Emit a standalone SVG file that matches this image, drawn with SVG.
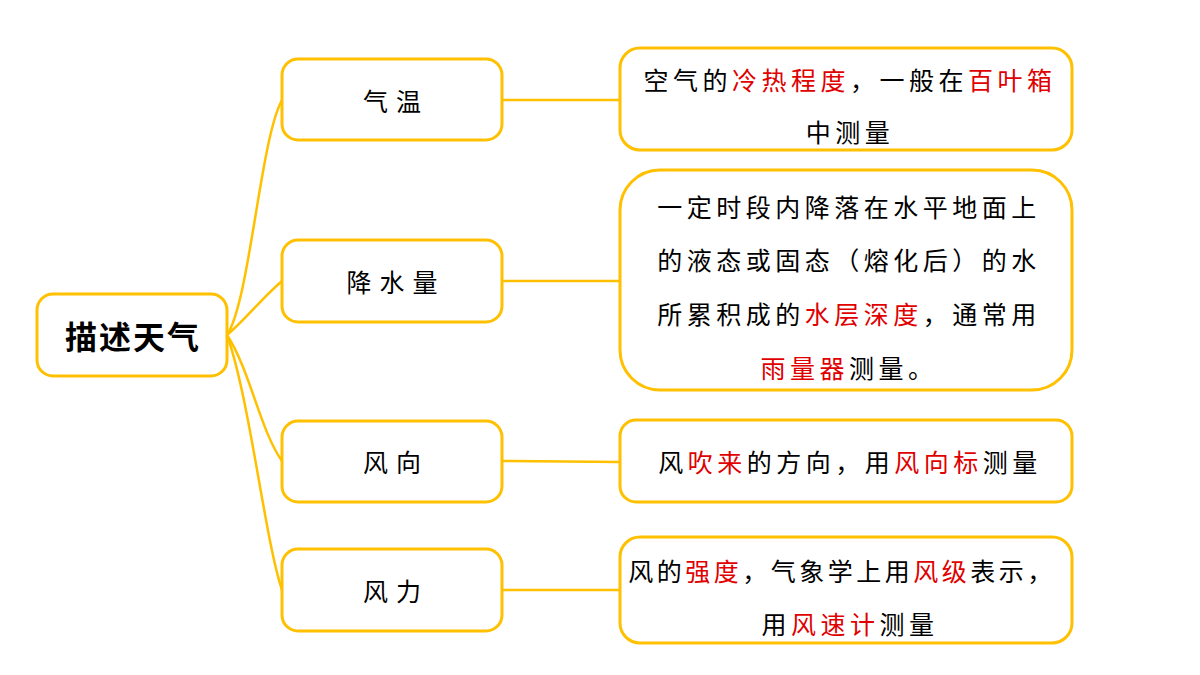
<svg xmlns="http://www.w3.org/2000/svg" width="1200" height="675" viewBox="0 0 1200 675">
<style>
.b{fill:#fff;stroke:#FFC000;stroke-width:3}
.c{fill:none;stroke:#FFC000;stroke-width:2.5}
text{font-family:"Noto Sans CJK SC","Noto Sans",sans-serif;font-size:25px;fill:#000;text-anchor:middle;dominant-baseline:central}
.d{letter-spacing:4.5px}
.m{letter-spacing:8px}
.r{fill:#E00000}
</style>
<rect width="1200" height="675" fill="#fff"/>
<g id="connectors">
<path class="c" d="M227,335 C250,300 260,140 282,100"/>
<path class="c" d="M227,335 C245,320 260,300 282,281"/>
<path class="c" d="M227,335 C250,370 260,430 282,461"/>
<path class="c" d="M227,335 C250,400 265,540 282,590"/>
<path class="c" d="M502,100 L620,100"/>
<path class="c" d="M502,281 L620,281"/>
<path class="c" d="M502,461 L620,462"/>
<path class="c" d="M502,590 L620,590"/>
</g>
<g id="root"><rect class="b" x="37" y="294" width="190" height="82" rx="16"/><text x="133" y="335" style="font-size:32px;font-weight:bold;letter-spacing:2px">描述天气</text></g>
<g id="n1"><rect class="b" x="282" y="59" width="220" height="81" rx="16"/><text class="m" x="396" y="100">气温</text></g>
<g id="n2"><rect class="b" x="282" y="240" width="220" height="82" rx="16"/><text class="m" x="396" y="281">降水量</text></g>
<g id="n3"><rect class="b" x="282" y="421" width="220" height="81" rx="16"/><text class="m" x="396" y="461">风向</text></g>
<g id="n4"><rect class="b" x="282" y="549" width="220" height="82" rx="16"/><text class="m" x="396" y="590">风力</text></g>
<g id="d1"><rect class="b" x="620" y="48" width="452" height="102" rx="20"/>
<text class="d" x="850" y="79">空气的<tspan class="r">冷热程度</tspan>，一般在<tspan class="r">百叶箱</tspan></text>
<text class="d" x="850" y="131">中测量</text></g>
<g id="d2"><rect class="b" x="620" y="170" width="452" height="220" rx="40"/>
<text class="d" x="849" y="206">一定时段内降落在水平地面上</text>
<text class="d" x="849" y="259">的液态或固态（熔化后）的水</text>
<text class="d" x="849" y="313">所累积成的<tspan class="r">水层深度</tspan>，通常用</text>
<text class="d" x="849" y="367"><tspan class="r">雨量器</tspan>测量。</text></g>
<g id="d3"><rect class="b" x="620" y="420" width="452" height="82" rx="16"/>
<text class="d" x="850" y="461">风<tspan class="r">吹来</tspan>的方向，用<tspan class="r">风向标</tspan>测量</text></g>
<g id="d4"><rect class="b" x="620" y="537" width="452" height="106" rx="20"/>
<text class="d" x="842" y="570" style="letter-spacing:3.5px">风的<tspan class="r">强度</tspan>，气象学上用<tspan class="r">风级</tspan>表示，</text>
<text class="d" x="850" y="623">用<tspan class="r">风速计</tspan>测量</text></g>
</svg>
